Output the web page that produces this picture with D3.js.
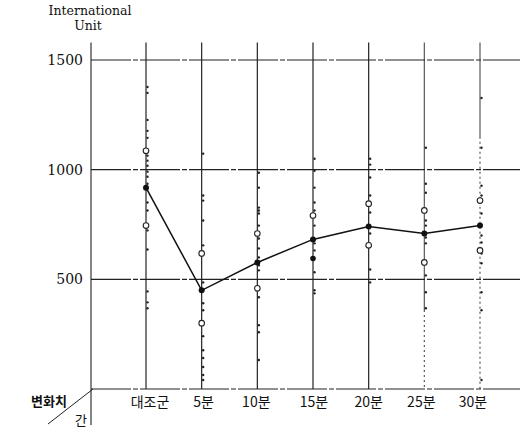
<!DOCTYPE html>
<html><head><meta charset="utf-8">
<script src="https://cdn.jsdelivr.net/npm/d3@7"></script>
<style>
html,body{margin:0;padding:0;background:#fff;}
.serif{font-family:"DejaVu Serif","Liberation Serif","Times New Roman",serif;}
.kr{font-family:"Noto Sans CJK KR","Noto Sans",sans-serif;}
</style></head>
<body>
<svg id="c" width="527" height="428"></svg>
<script>
const categories = ["대조군","5분","10분","15분","20분","25분","30분"];
const yTicks = [500,1000,1500];
const means = [918,450,577,682,741,709,745];
const openHigh = [1086,618,709,791,845,814,859];
const openLow  = [745,300,459,null,655,577,632];
const extraFilled = [null,null,null,595,null,null,null];
const dots = [
  [1377,1350,1227,1177,1145,1064,1041,1018,991,968,936,850,814,723,636,445,395,368],
  [1073,882,859,768,655,486,391,359,241,177,141,100,64,41],
  [986,918,827,800,814,745,686,641,600,564,541,418,291,259,132],
  [1050,995,918,850,814,745,664,632,532,450,436],
  [1050,1023,964,882,805,709,545,486],
  [1100,936,895,768,745,691,664,518,441,368],
  [1327,1100,927,882,800,700,668,618,573,441,359,41]
];

const svg = d3.select("#c");
const x = d3.scalePoint().domain(categories).range([146,480]);
const y = d3.scaleLinear().domain([0,1500]).range([389,60]);
const axisX = 91, rightX = 520;

// horizontal grid lines
svg.selectAll("line.h").data(yTicks).join("line")
  .attr("x1",axisX).attr("x2",rightX)
  .attr("y1",d=>y(d)).attr("y2",d=>y(d))
  .attr("stroke","#222").attr("stroke-width",1.1)
  .attr("stroke-dasharray","40,2,5,2");
// baseline
svg.append("line").attr("x1",axisX).attr("x2",rightX)
  .attr("y1",y(0)).attr("y2",y(0)).attr("stroke","#222").attr("stroke-width",1.1)
  .attr("stroke-dasharray","40,2,5,2");

// y axis
svg.append("line").attr("x1",axisX).attr("x2",axisX).attr("y1",y(1580)).attr("y2",425)
  .attr("stroke","#222").attr("stroke-width",1.1);
// diagonal header line
svg.append("line").attr("x1",axisX+2).attr("y1",y(0)).attr("x2",48).attr("y2",424)
  .attr("stroke","#222").attr("stroke-width",1);

// vertical category lines: last two fade into dotted lower part
function dashFor(solidLen){
  const a=[solidLen,0];
  for(let k=0;k<80;k++){a.push(2,3);}
  return a.join(",");
}
const solidTo = [null,null,null,null,null,360,1150];
svg.selectAll("line.v").data(categories).join("line")
  .attr("x1",d=>x(d)).attr("x2",d=>x(d))
  .attr("y1",y(1580)).attr("y2",y(0))
  .attr("stroke","#222").attr("stroke-width",1.2)
  .attr("stroke-dasharray",(d,i)=> solidTo[i]==null ? null : dashFor(y(solidTo[i])-y(1580)))
  .attr("stroke-opacity",(d,i)=> solidTo[i]==null ? 1 : 0.75);

// small dots
categories.forEach((c,i)=>{
  svg.append("g").selectAll("circle").data(dots[i]).join("circle")
    .attr("cx",x(c)+1.5).attr("cy",d=>y(d)).attr("r",1.2).attr("fill","#222");
});

// open circles
const opens = [];
categories.forEach((c,i)=>{ opens.push([c,openHigh[i]]); if(openLow[i]!=null) opens.push([c,openLow[i]]); });
svg.append("g").selectAll("circle").data(opens).join("circle")
  .attr("cx",d=>x(d[0])).attr("cy",d=>y(d[1])).attr("r",2.8)
  .attr("fill","#fff").attr("stroke","#222").attr("stroke-width",1.1);

svg.append("g").selectAll("circle").data(categories.map((c,i)=>[c,extraFilled[i]]).filter(d=>d[1]!=null)).join("circle")
  .attr("cx",d=>x(d[0])).attr("cy",d=>y(d[1])).attr("r",2.8).attr("fill","#111");

// mean line
const line = d3.line().x((d,i)=>x(categories[i])).y(d=>y(d));
svg.append("path").attr("d",line(means)).attr("fill","none").attr("stroke","#111").attr("stroke-width",1.5);
svg.append("g").selectAll("circle").data(means).join("circle")
  .attr("cx",(d,i)=>x(categories[i])).attr("cy",d=>y(d)).attr("r",3).attr("fill","#111");

// y tick labels
svg.selectAll("text.yt").data(yTicks).join("text").attr("class","serif")
  .attr("x",83).attr("y",d=>y(d)+5).attr("text-anchor","end")
  .attr("font-size",14).attr("fill","#111").text(d=>d);

// axis title
svg.append("text").attr("class","serif").attr("x",90).attr("y",15).attr("text-anchor","middle").attr("font-size",12.5).attr("fill","#111").text("International");
svg.append("text").attr("class","serif").attr("x",88).attr("y",30).attr("text-anchor","middle").attr("font-size",12.5).attr("fill","#111").text("Unit");

// category labels
const labelOffset = [4,2,-1,1,0,-3,-7];
svg.selectAll("text.xl").data(categories).join("text").attr("class","kr")
  .attr("x",(d,i)=>x(d)+labelOffset[i]).attr("y",407).attr("text-anchor","middle")
  .attr("font-size",14).attr("fill","#111").text(d=>d);

svg.append("text").attr("class","kr").attr("x",49).attr("y",406).attr("text-anchor","middle")
  .attr("font-size",13).attr("font-weight","bold").attr("fill","#111").text("변화치");
svg.append("text").attr("class","kr").attr("x",81).attr("y",425).attr("text-anchor","middle")
  .attr("font-size",13).attr("fill","#111").text("간");
</script>
</body></html>
